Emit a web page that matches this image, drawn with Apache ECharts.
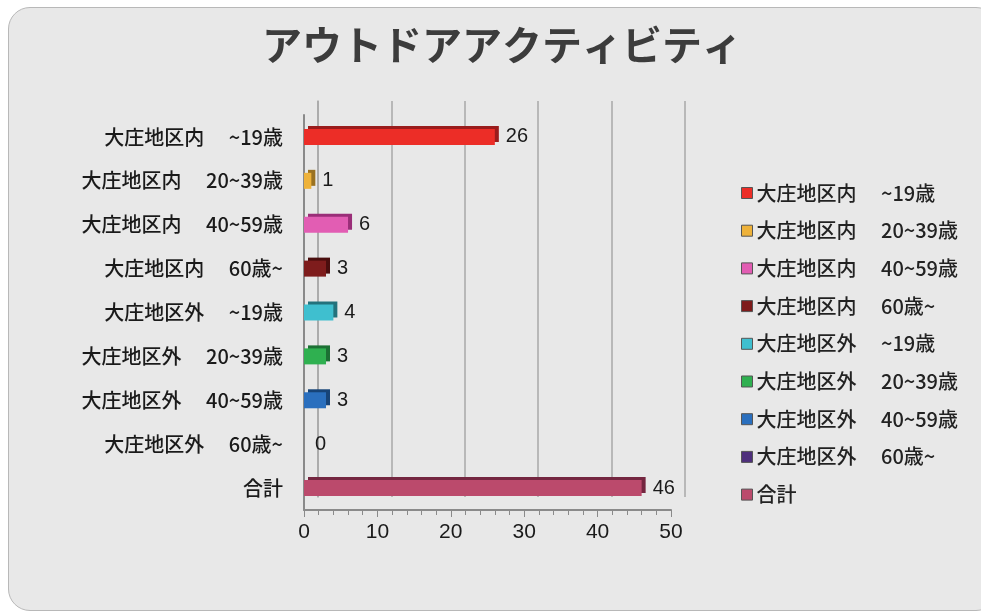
<!DOCTYPE html>
<html><head><meta charset="utf-8">
<script src="https://cdn.jsdelivr.net/npm/echarts@6/dist/echarts.min.js"></script>
<style>
html,body{margin:0;padding:0;background:#fff;}
#wrap{position:absolute;left:8px;top:7px;width:990px;height:604px;background:#e8e8e8;border:1px solid #b8b8b8;border-radius:22px;box-sizing:border-box;overflow:hidden;}
#c{position:absolute;left:0;top:0;width:981px;height:614px;}
</style></head>
<body>
<div id="wrap"></div>
<div id="c"></div>
<script>
const categories = ['大庄地区内　 ~19歳','大庄地区内　 20~39歳','大庄地区内　 40~59歳','大庄地区内　 60歳~','大庄地区外　 ~19歳','大庄地区外　 20~39歳','大庄地区外　 40~59歳','大庄地区外　 60歳~','合計'];
const values = [26, 1, 6, 3, 4, 3, 3, 0, 46];
const colors = ['#ec2d27','#eeb23a','#e25db3','#7e1c1c','#3fbfcf','#2fb050','#2a6fbe','#4e2f7c','#bb4a6c'];
const borders = ['#9a1c1c','#9a7222','#9a2e78','#4a0e0e','#23727c','#1c7034','#174478','#2a1848','#742640'];
const xTicks = {min:0, max:50, interval:10};

const chart = echarts.init(document.getElementById('c'), null, {renderer:'canvas'});
const font = '"Noto Sans CJK JP","Noto Sans",sans-serif';
const latin = '"Liberation Sans", Arial, sans-serif';
const series = categories.map((name, i) => ({
  name: name,
  type: 'bar',
  stack: 'all',
  xAxisIndex: 0, yAxisIndex: 0,
  barWidth: 16,
  data: categories.map((c, j) => j === i ? values[i] : '-'),
  itemStyle: {color: colors[i], borderWidth: 0,
    shadowColor: borders[i], shadowOffsetX: 4, shadowOffsetY: -3, shadowBlur: 0},
  label: {show: true, position: 'right', distance: 11, color: '#1a1a1a', fontSize: 20, fontFamily: latin},
  emphasis: {disabled: true}
}));
chart.setOption({
  animation: false,
  backgroundColor: 'transparent',
  title: {text: 'アウトドアアクティビティ', left: 497, textAlign: 'center', top: 20,
    textStyle: {fontSize: 40, fontWeight: 'bold', color: '#3c3c3c', fontFamily: font}},
  legend: {
    orient: 'vertical', left: 736, top: 178, itemGap: 17.7,
    itemWidth: 11, itemHeight: 11, icon: 'rect',
    textStyle: {fontSize: 20, fontWeight: 500, color: '#222', fontFamily: font, padding:[0,0,0,-1]},
    data: categories.map((c,i)=>({name:c, itemStyle:{borderColor:'#555', borderWidth:1}}))
  },
  grid: [
    {left: 304, right: 310, top: 115, bottom: 104},
    {left: 318, right: 296, top: 101, bottom: 117}
  ],
  xAxis: [
    {type: 'value', gridIndex: 0, min: xTicks.min, max: xTicks.max, interval: xTicks.interval,
      axisLine: {show: true, lineStyle: {color: '#8a8a8a', width: 2}},
      axisTick: {show: true, length: 7, lineStyle: {color: '#8a8a8a'}},
      minorTick: {show: true, splitNumber: 5, length: 5, lineStyle: {color: '#8a8a8a'}},
      splitLine: {show: false},
      axisLabel: {color: '#1a1a1a', fontSize: 21, margin: 12, fontFamily: latin}},
    {type: 'value', gridIndex: 1, min: xTicks.min, max: xTicks.max, interval: xTicks.interval,
      axisLine: {show: false}, axisTick: {show: false}, axisLabel: {show: false},
      splitLine: {show: true, lineStyle: {color: '#a8a8a8', width: 1.5}}}
  ],
  yAxis: [
    {type: 'category', gridIndex: 0, inverse: true, data: categories,
      axisLine: {show: true, lineStyle: {color: '#8a8a8a', width: 2}},
      axisTick: {show: false},
      axisLabel: {color: '#1a1a1a', fontSize: 20, fontWeight: 500, margin: 21, fontFamily: font}},
    {type: 'category', gridIndex: 1, inverse: true, data: categories,
      axisLine: {show: true, lineStyle: {color: '#a8a8a8', width: 1.5}},
      axisTick: {show: false}, axisLabel: {show: false}}
  ],
  series: series
});
</script>
</body></html>
